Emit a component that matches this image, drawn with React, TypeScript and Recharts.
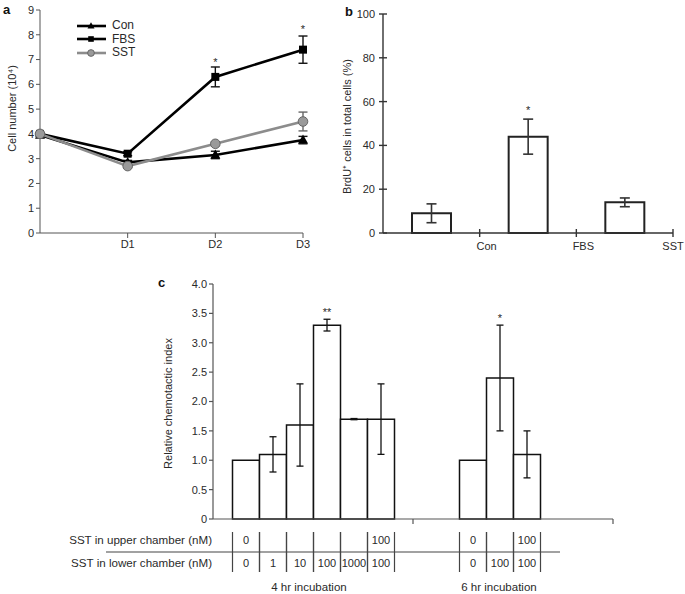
import React from "react";
import {
  Bar,
  ComposedChart,
  ErrorBar,
  LabelList,
  Legend,
  Line,
  ReferenceDot,
  XAxis,
  YAxis,
} from "recharts";

// ---- panel a: cell number over days ----
const days = [0, 1, 2, 3];
const dayLabels = ["", "D1", "D2", "D3"];
const conCells = [3.95, 2.85, 3.15, 3.75];
const conCellsErr = [0.06, 0.08, 0.15, 0.15];
const fbsCells = [4.0, 3.2, 6.3, 7.4];
const fbsCellsErr = [0.05, 0.08, 0.4, 0.55];
const sstCells = [4.0, 2.7, 3.6, 4.5];
const sstCellsErr = [0.05, 0.05, 0.07, 0.38];
const cellTicks = [0, 1, 2, 3, 4, 5, 6, 7, 8, 9];
const cellStars = [
  { day: 2, y: 7.0, text: "*" },
  { day: 3, y: 8.3, text: "*" },
];

// ---- panel b: BrdU+ cells ----
const brduGroups = ["Con", "FBS", "SST"];
const brduPct = [9, 44, 14];
const brduErr = [4.3, 8, 2];
const brduSig = ["", "*", ""];
const brduTicks = [0, 20, 40, 60, 80, 100];

// ---- panel c: chemotactic index ----
const incubations = ["4 hr incubation", "6 hr incubation"];
const chemoIndex: (number | null)[][] = [
  [1.0, 1.1, 1.6, 3.3, 1.7, 1.7],
  [null, 1.0, 2.4, 1.1, null, null],
];
const chemoErr: (number | null)[][] = [
  [null, 0.3, 0.7, 0.1, 0.01, 0.6],
  [null, null, 0.9, 0.4, null, null],
];
const chemoSig = [
  ["", "", "", "**", "", ""],
  ["", "", "*", "", "", ""],
];
const upperNM: (string | null)[][] = [
  ["0", "", "", "", "", "100"],
  [null, "0", "", "100", null, null],
];
const lowerNM: (string | null)[][] = [
  ["0", "1", "10", "100", "1000", "100"],
  [null, "0", "100", "100", null, null],
];
const tableRows = ["SST in upper chamber (nM)", "SST in lower chamber (nM)"];
const chemoTicks = [0, 0.5, 1, 1.5, 2, 2.5, 3, 3.5, 4];

const FONT = '"Liberation Sans", Arial, Helvetica, sans-serif';
const TXT = "#2a2a2a";
const AXIS = "#555";

const seriesA = [
  { key: "con", err: "conErr", name: "Con", color: "#000", shape: "tri" },
  { key: "fbs", err: "fbsErr", name: "FBS", color: "#000", shape: "sq" },
  { key: "sst", err: "sstErr", name: "SST", color: "#8c8c8c", shape: "circ" },
];

const dataA = days.map((d, i) => ({
  day: d,
  con: conCells[i],
  conErr: conCellsErr[i],
  fbs: fbsCells[i],
  fbsErr: fbsCellsErr[i],
  sst: sstCells[i],
  sstErr: sstCellsErr[i],
}));

// pos = centre of each category on the numeric "edge" axis (ticks sit between categories)
const dataB = brduGroups.map((g, i) => ({
  group: g,
  pos: i + 0.5,
  pct: brduPct[i],
  err: brduErr[i],
  sig: brduSig[i],
}));

const slots = chemoIndex[0].map((_, i) => i);
const dataC = incubations.map((g, i) => {
  const row: Record<string, any> = { group: g, pos: i + 0.5 };
  slots.forEach((s) => {
    row[`s${s}`] = chemoIndex[i][s];
    row[`e${s}`] = chemoErr[i][s];
  });
  return row;
});

function Marker({ shape, cx, cy, k = 1 }: { shape: string; cx: number; cy: number; k?: number }) {
  if (shape === "tri")
    return (
      <polygon
        points={`${cx},${cy - 5.5 * k} ${cx - 5 * k},${cy + 3.5 * k} ${cx + 5 * k},${cy + 3.5 * k}`}
        fill="#000"
      />
    );
  if (shape === "sq") return <rect x={cx - 4 * k} y={cy - 4 * k} width={8 * k} height={8 * k} fill="#000" />;
  return <circle cx={cx} cy={cy} r={4.8 * k} fill="#9a9a9a" stroke="#666" strokeWidth={1} />;
}

function axisTitle(text: string, dx: number, dy = 0) {
  return ({ viewBox }: any) => {
    const x = viewBox.x + dx;
    const y = viewBox.y + viewBox.height / 2 + dy;
    return (
      <text
        x={x}
        y={y}
        transform={`rotate(-90 ${x} ${y})`}
        textAnchor="middle"
        dominantBaseline="central"
        fontSize={11}
        fill={TXT}
      >
        {text}
      </text>
    );
  };
}

function LegendA() {
  return (
    <div style={{ display: "flex", flexDirection: "column" }}>
      {seriesA.map((s) => (
        <div key={s.key} style={{ display: "flex", alignItems: "center", height: 13.5 }}>
          <svg width={29} height={10}>
            <line x1={0} x2={29} y1={5} y2={5} stroke={s.color} strokeWidth={2.6} />
            <Marker shape={s.shape} cx={14} cy={5} k={0.7} />
          </svg>
          <span style={{ marginLeft: 6, fontSize: 12, color: TXT, lineHeight: "13px" }}>{s.name}</span>
        </div>
      ))}
    </div>
  );
}

function PanelA() {
  return (
    <ComposedChart width={320} height={260} data={dataA} margin={{ top: 10, right: 17, bottom: 0, left: 0 }}>
      <XAxis
        dataKey="day"
        type="number"
        domain={[0, 3]}
        ticks={[1, 2, 3]}
        interval={0}
        tickFormatter={(v: number) => dayLabels[v]}
        height={27}
        tickSize={5}
        tickMargin={2}
        stroke={AXIS}
        tick={{ fill: TXT, fontSize: 11 }}
      />
      <YAxis
        type="number"
        domain={[0, 9]}
        ticks={cellTicks}
        interval={0}
        width={40}
        tickSize={4}
        tickMargin={2}
        stroke={AXIS}
        tick={{ fill: TXT, fontSize: 11 }}
        label={{ content: axisTitle("Cell number (10⁴)", 12, -13) }}
      />
      <Legend
        layout="vertical"
        align="center"
        verticalAlign="middle"
        wrapperStyle={{ left: 77, top: 19, width: "auto" }}
        content={() => <LegendA />}
      />
      {seriesA.map((s) => (
        <Line
          key={s.key}
          dataKey={s.key}
          stroke={s.color}
          strokeWidth={2.6}
          isAnimationActive={false}
          dot={(p: any) => (
            <g key={`${s.key}-${p.index}`}>
              <Marker shape={s.shape} cx={p.cx} cy={p.cy} />
            </g>
          )}
          activeDot={false}
        >
          <ErrorBar dataKey={s.err} direction="y" width={4.5} stroke={s.shape === "circ" ? "#666" : "#111"} strokeWidth={1.4} />
        </Line>
      ))}
      {cellStars.map((st) => (
        <ReferenceDot
          key={st.day}
          x={st.day}
          y={st.y}
          r={0}
          shape={(p: any) => (
            <text x={p.cx} y={p.cy + 6} textAnchor="middle" fontSize={11} fill={TXT}>
              {st.text}
            </text>
          )}
        />
      ))}
    </ComposedChart>
  );
}

function PanelB() {
  return (
    <ComposedChart width={345} height={260} data={dataB} margin={{ top: 14, right: 12, bottom: 0, left: 0 }}>
      <XAxis xAxisId="band" dataKey="group" type="category" hide height={0} />
      <XAxis
        xAxisId="edge"
        dataKey="pos"
        type="number"
        domain={[0, 3]}
        allowDataOverflow
        ticks={[1, 2, 3]}
        interval={0}
        height={27}
        tickSize={0}
        tickMargin={0}
        stroke="#333"
        strokeWidth={1.4}
        tick={(p: any) => (
          <g>
            <line x1={p.x} x2={p.x} y1={p.y - 4} y2={p.y + 4} stroke="#333" strokeWidth={1.4} />
            <text x={Math.min(p.x + 7, 333)} y={p.y + 17} textAnchor="middle" fontSize={11} fill={TXT}>
              {brduGroups[p.payload.value - 1]}
            </text>
          </g>
        )}
      />
      <YAxis
        type="number"
        domain={[0, 100]}
        ticks={brduTicks}
        interval={0}
        width={43}
        tickSize={0}
        tickMargin={0}
        stroke="#333"
        strokeWidth={1.4}
        tick={(p: any) => (
          <g>
            <line x1={p.x - 4} x2={p.x + 4} y1={p.y} y2={p.y} stroke="#333" strokeWidth={1.4} />
            <text x={p.x - 8} y={p.y + 4} textAnchor="end" fontSize={11} fill={TXT}>
              {p.payload.value}
            </text>
          </g>
        )}
        label={{ content: axisTitle("BrdU⁺ cells in total cells (%)", 7, 3) }}
      />
      <Bar
        xAxisId="band"
        dataKey="pct"
        barSize={39}
        fill="#fff"
        stroke="#222"
        strokeWidth={2}
        isAnimationActive={false}
      >
        <ErrorBar dataKey="err" direction="y" width={5} stroke="#333" strokeWidth={1.6} />
        <LabelList
          dataKey="sig"
          content={(p: any) => {
            const vb = p.viewBox;
            if (!p.value || !vb) return null;
            const i = p.index;
            const errPx = (brduErr[i] * vb.height) / brduPct[i];
            return (
              <text x={vb.x + vb.width / 2} y={vb.y - errPx - 5} textAnchor="middle" fontSize={11} fill={TXT}>
                {p.value}
              </text>
            );
          }}
        />
      </Bar>
    </ComposedChart>
  );
}

function TableCell({ slot, viewBox, index }: any) {
  const lower = lowerNM[index]?.[slot];
  const v = chemoIndex[index]?.[slot];
  if (lower == null || v == null || !viewBox) return null;
  const { x, y, width, height } = viewBox;
  const base = y + height;
  const cx = x + width / 2;
  const err = chemoErr[index][slot];
  const errPx = err ? (err * height) / v : 0;
  const sig = chemoSig[index][slot];
  return (
    <g>
      <line x1={x} x2={x} y1={base + 13} y2={base + 53} stroke="#444" strokeWidth={1.2} />
      <line x1={x + width} x2={x + width} y1={base + 13} y2={base + 53} stroke="#444" strokeWidth={1.2} />
      <text x={cx} y={base + 25} textAnchor="middle" fontSize={11} fill={TXT}>
        {upperNM[index][slot]}
      </text>
      <text x={cx} y={base + 48} textAnchor="middle" fontSize={11} fill={TXT}>
        {lower}
      </text>
      {sig ? (
        <text x={cx} y={y - errPx - 3} textAnchor="middle" fontSize={11} fill={TXT}>
          {sig}
        </text>
      ) : null}
    </g>
  );
}

function PanelC() {
  return (
    <ComposedChart
      width={625}
      height={324}
      data={dataC}
      barGap={0}
      barCategoryGap={19.5}
      margin={{ top: 14, right: 12, bottom: 0, left: 150 }}
    >
      <XAxis xAxisId="band" dataKey="group" type="category" hide height={0} />
      <XAxis
        xAxisId="edge"
        dataKey="pos"
        type="number"
        domain={[0, 2]}
        allowDataOverflow
        ticks={[0.48, 1, 1.43, 2]}
        interval={0}
        height={75}
        tickSize={0}
        tickMargin={0}
        stroke={AXIS}
        strokeWidth={1.2}
        tick={(p: any) => {
          const v = p.payload.value;
          if (Number.isInteger(v))
            return <line x1={p.x} x2={p.x} y1={p.y} y2={p.y + 5} stroke={AXIS} strokeWidth={1.2} />;
          return (
            <text x={p.x} y={p.y + 72} textAnchor="middle" fontSize={11.5} fill={TXT}>
              {incubations[v < 1 ? 0 : 1]}
            </text>
          );
        }}
      />
      <YAxis
        type="number"
        domain={[0, 4]}
        ticks={chemoTicks}
        interval={0}
        width={63}
        tickSize={4}
        tickMargin={2}
        stroke={AXIS}
        strokeWidth={1.2}
        tick={{ fill: TXT, fontSize: 11 }}
        tickFormatter={(v: number) => (v === 0 ? "0" : v.toFixed(1))}
        label={{ content: axisTitle("Relative chemotactic index", 18, 2) }}
      />
      {slots.map((s) => (
        <Bar
          key={s}
          xAxisId="band"
          dataKey={`s${s}`}
          fill="#fff"
          stroke="#111"
          strokeWidth={1.5}
          isAnimationActive={false}
        >
          <ErrorBar dataKey={`e${s}`} direction="y" width={3.5} stroke="#111" strokeWidth={1.3} />
          <LabelList dataKey={`s${s}`} content={(p: any) => <TableCell slot={s} {...p} />} />
        </Bar>
      ))}
    </ComposedChart>
  );
}

export default function App() {
  return (
    <div
      style={{
        position: "absolute",
        left: 0,
        top: 0,
        width: 685,
        height: 594,
        background: "#fff",
        fontFamily: FONT,
        overflow: "hidden",
      }}
    >
      <div style={{ position: "absolute", left: 0, top: 0 }}>
        <PanelA />
      </div>
      <div style={{ position: "absolute", left: 340, top: 0 }}>
        <PanelB />
      </div>
      <div style={{ position: "absolute", left: 0, top: 270 }}>
        <PanelC />
      </div>
      <svg
        width={685}
        height={594}
        style={{ position: "absolute", left: 0, top: 0, pointerEvents: "none" }}
      >
        <text x={3} y={14} fontWeight="bold" fontSize={13} fill="#111">a</text>
        <text x={345} y={16} fontWeight="bold" fontSize={13} fill="#111">b</text>
        <text x={158} y={287} fontWeight="bold" fontSize={13} fill="#111">c</text>
        {tableRows.map((r, i) => (
          <text key={r} x={212} y={544 + i * 23} textAnchor="end" fontSize={11.6} fill={TXT}>
            {r}
          </text>
        ))}
        <line x1={106} x2={560} y1={552} y2={552} stroke="#444" strokeWidth={1.2} />
      </svg>
    </div>
  );
}
